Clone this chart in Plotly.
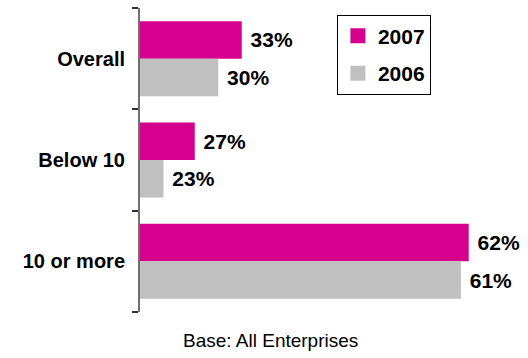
import plotly.graph_objects as go

categories = ["Overall", "Below 10", "10 or more"]
series_names = ["2007", "2006"]
values_2007 = [33, 27, 62]
values_2006 = [30, 23, 61]

colors = {"2007": "#D6008F", "2006": "#C0C0C0"}
FONT = "Liberation Sans, Arial, sans-serif"
label_font = dict(family=FONT, size=21, color="black")

fig = go.Figure()
for name, vals in zip(series_names, [values_2007, values_2006]):
    fig.add_trace(go.Bar(
        y=categories, x=vals, orientation="h", name=name,
        marker=dict(color=colors[name], line=dict(width=0)),
        texttemplate="\u00a0<b>%{x}%</b>", textposition="outside",
        textfont=label_font, cliponaxis=False, showlegend=False,
    ))

# legend entries as larger square swatches
for name in series_names:
    fig.add_trace(go.Scatter(
        x=[None], y=[None], mode="markers", name=f"<b>{name}</b>",
        marker=dict(symbol="square", size=15, color=colors[name]),
        legendgroup=name, showlegend=True,
    ))

fig.update_layout(
    width=528, height=358,
    margin=dict(l=140, r=28, t=8, b=46),
    paper_bgcolor="white", plot_bgcolor="white",
    barmode="group", bargap=0.26, bargroupgap=0,
    showlegend=True,
    legend=dict(
        x=0.547, y=0.978, xanchor="left", yanchor="top",
        bgcolor="white", bordercolor="black", borderwidth=1,
        font=dict(family=FONT, size=21, color="black"),
        traceorder="grouped", tracegroupgap=7, itemsizing="trace",
    ),
    xaxis=dict(range=[20, 66], visible=False),
    yaxis=dict(
        autorange="reversed", showline=True, linecolor="#707070", linewidth=2,
        ticks="outside", tickson="boundaries", ticklen=6, tickcolor="#303030",
        tickwidth=1.5, showgrid=False, ticklabelstandoff=9,
        tickfont=dict(family=FONT, size=20, color="black"),
        tickvals=categories, ticktext=[f"<b>{c}</b>" for c in categories],
    ),
    annotations=[dict(
        text="Base: All Enterprises", xref="paper", yref="paper",
        x=(270 - 140) / 360, y=-0.095, xanchor="center", yanchor="middle",
        showarrow=False,
        font=dict(family=FONT, size=19, color="black"),
    )],
)

fig.write_html("out.html")
